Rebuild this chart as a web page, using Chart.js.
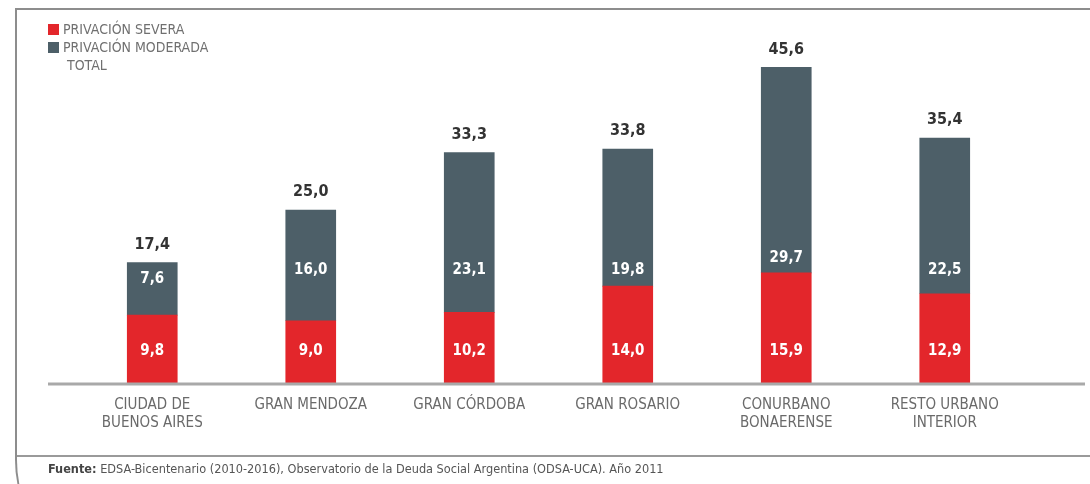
<!DOCTYPE html>
<html>
<head>
<meta charset="utf-8">
<script src="https://cdn.jsdelivr.net/npm/chart.js@4"></script>
<style>
  html, body { margin: 0; padding: 0; background: #fff; }
  body { width: 1090px; height: 484px; position: relative; overflow: hidden;
         font-family: "Liberation Sans Narrow", "DejaVu Sans Condensed", "Roboto", sans-serif; }
  #frame { position: absolute; left: 15px; top: 8px; width: 1100px; height: 445px;
           border-top: 2px solid #8d8d8d; border-left: 2px solid #8d8d8d; border-bottom: 2px solid #9a9a9a; }
  #curve { position: absolute; left: 15px; top: 440px; width: 300px; height: 90px;
           border-left: 2px solid #8d8d8d; border-bottom-left-radius: 40px 70px; }
  #wrap { position: absolute; left: 0; top: 0; width: 1090px; height: 484px; }
  .legend { position: absolute; left: 48px; top: 20px; font-size: 14px; color: #707070; line-height: 18px; }
  .legend div { display: flex; align-items: center; height: 18px; }
  .legend span.box { width: 11px; height: 11px; margin-right: 4px; display: inline-block; }
  #footer { position: absolute; left: 48px; top: 461px; font-size: 12.6px; color: #555; }
  #footer b { color: #444; }
</style>
</head>
<body>
<div id="frame"></div>
<div id="curve"></div>
<div id="wrap"><canvas id="chart" width="1090" height="484"></canvas></div>
<div class="legend">
  <div><span class="box" style="background:#e3262b"></span>PRIVACIÓN SEVERA</div>
  <div><span class="box" style="background:#4d5f68"></span>PRIVACIÓN MODERADA</div>
  <div style="padding-left:19px">TOTAL</div>
</div>
<div id="footer"><b>Fuente:</b> EDSA-Bicentenario (2010-2016), Observatorio de la Deuda Social Argentina (ODSA-UCA). Año 2011</div>
<script>
// Data
const categories = [
  ["CIUDAD DE", "BUENOS AIRES"],
  "GRAN MENDOZA",
  "GRAN CÓRDOBA",
  "GRAN ROSARIO",
  ["CONURBANO", "BONAERENSE"],
  ["RESTO URBANO", "INTERIOR"]
];
const severa = [9.8, 9.0, 10.2, 14.0, 15.9, 12.9];
const moderada = [7.6, 16.0, 23.1, 19.8, 29.7, 22.5];
const total = [17.4, 25.0, 33.3, 33.8, 45.6, 35.4];

const RED = "#e3262b";
const GRAY = "#4d5f68";
const FONT = '"Liberation Sans Narrow", "DejaVu Sans Condensed", Roboto, sans-serif';

function fmt(v) {
  return v.toFixed(1).replace(".", ",");
}

// Axis line + value labels
const labelsPlugin = {
  id: "labels",
  afterDatasetsDraw(chart) {
    const ctx = chart.ctx;
    const area = chart.chartArea;
    const y = chart.scales.y;

    ctx.save();
    ctx.strokeStyle = "#a9a9a9";
    ctx.lineWidth = 3;
    ctx.beginPath();
    ctx.moveTo(48, area.bottom + 1);
    ctx.lineTo(1085, area.bottom + 1);
    ctx.stroke();

    ctx.textAlign = "center";
    ctx.textBaseline = "middle";
    const redMeta = chart.getDatasetMeta(0);
    const grayMeta = chart.getDatasetMeta(1);

    redMeta.data.forEach((bar, i) => {
      const x = bar.x;
      ctx.font = "bold 15px " + FONT;
      ctx.fillStyle = "#fff";
      ctx.fillText(fmt(severa[i]), x, 351);

      // moderate labels sit on one row, kept inside the grey segment
      const segTop = grayMeta.data[i].y;
      const segBottom = bar.y;
      const gy = Math.min(Math.max(270, segTop + 17), segBottom - 15);
      ctx.fillText(fmt(moderada[i]), x, gy);

      ctx.font = "bold 16px " + FONT;
      ctx.fillStyle = "#333";
      ctx.fillText(fmt(total[i]), x, y.getPixelForValue(total[i]) - 18);
    });
    ctx.restore();
  }
};

new Chart(document.getElementById("chart"), {
  type: "bar",
  data: {
    labels: categories,
    datasets: [
      { label: "PRIVACIÓN SEVERA", data: severa, backgroundColor: RED },
      { label: "PRIVACIÓN MODERADA", data: moderada, backgroundColor: GRAY }
    ]
  },
  options: {
    responsive: false,
    animation: false,
    layout: { padding: { left: 73, right: 66, top: 30, bottom: 0 } },
    plugins: { legend: { display: false }, tooltip: { enabled: false } },
    datasets: { bar: { barThickness: 50 } },
    scales: {
      x: {
        stacked: true,
        grid: { display: false, drawTicks: false },
        border: { display: false },
        ticks: {
          padding: 13,
          color: "#6a6a6a",
          font: { family: FONT, size: 15 },
          maxRotation: 0,
          autoSkip: false
        },
        afterFit(scale) { scale.height = 101; }
      },
      y: {
        stacked: true,
        display: false,
        min: 0,
        max: 51
      }
    }
  },
  plugins: [labelsPlugin]
});
</script>
</body>
</html>
